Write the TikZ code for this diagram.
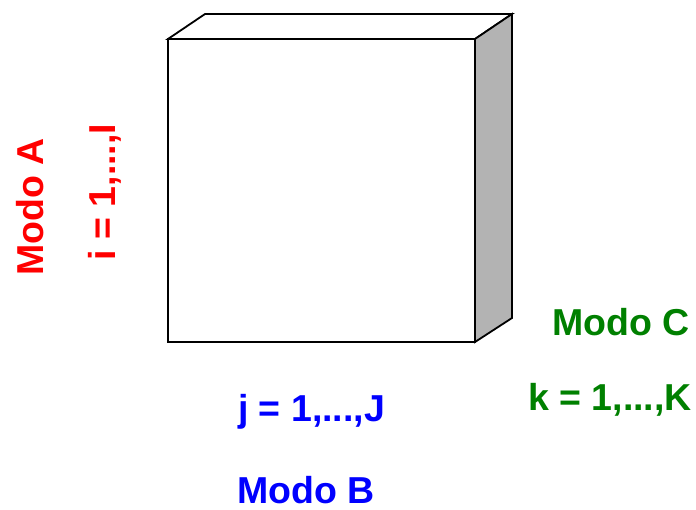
\documentclass[tikz,border=0pt]{standalone}
\usepackage{fontspec}
\setmainfont{Liberation Sans}
\definecolor{modoA}{RGB}{255,0,0}
\definecolor{modoB}{RGB}{0,0,255}
\definecolor{modoC}{RGB}{0,128,0}
\definecolor{sidegray}{RGB}{179,179,179}
\begin{document}
\begin{tikzpicture}[x=1pt,y=-1pt,
  lbl/.style={inner sep=0pt,anchor=base,font=\fontsize{37.5}{44}\selectfont\bfseries},
  edge/.style={line width=1.8pt,line join=miter}]
\useasboundingbox (0,0) rectangle (696,509);
% cube
\draw[edge,fill=white] (168,39) -- (205,14) -- (512,14) -- (475,39) -- cycle;
\draw[edge,fill=sidegray] (475,39) -- (512,14) -- (512,318) -- (475,342) -- cycle;
\draw[edge,fill=white] (168,39) rectangle (475,342);
% labels
\node[lbl,text=modoA,rotate=90] (ma) at (43,207) {Modo A};
\node[lbl,text=modoA,rotate=90] (ia) at (115,192) {i = 1,...,I};
\node[lbl,text=modoB] (jb) at (311.5,421) {j = 1,...,J};
\node[lbl,text=modoB] (mb) at (306,503) {Modo B};
\node[lbl,text=modoC] (mc) at (621,335) {Modo C};
\node[lbl,text=modoC] (kc) at (610,410) {k = 1,...,K};
\end{tikzpicture}
\end{document}
